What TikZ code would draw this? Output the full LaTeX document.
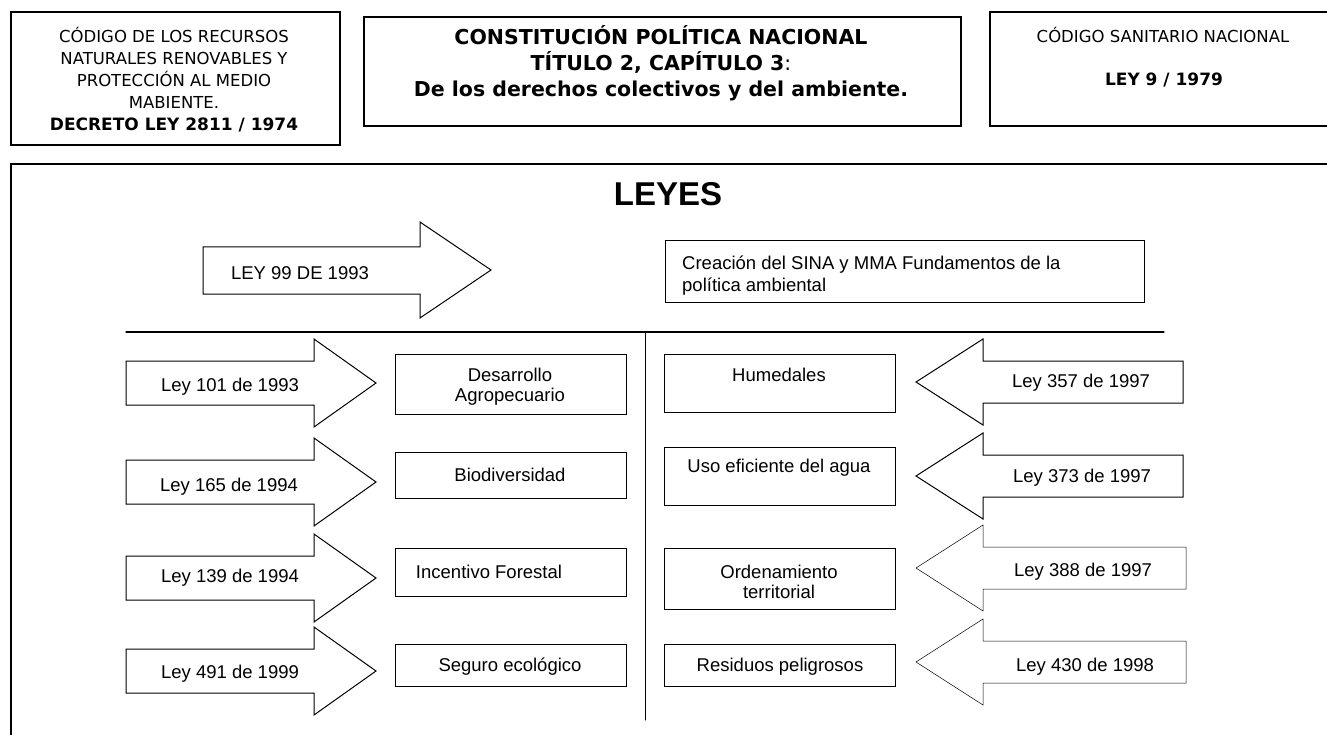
\documentclass[tikz,border=0pt]{standalone}
\usepackage{fontspec}
\setmainfont{Liberation Sans}
\newfontfamily\tahoma{DejaVu Sans}
\usepackage{tikz}

\begin{document}
\begin{tikzpicture}[line cap=round,line join=miter,x=1pt,y=-1pt,
  caja/.style={line width=1.2pt},
  flecha/.style={line width=1pt},
  fina/.style={line width=0.5pt},
  texto/.style={font=\fontsize{18.5}{20}\selectfont,inner sep=0pt,align=center},
  norma/.style={font=\tahoma\fontsize{16.5}{22}\selectfont,inner sep=0pt,align=center}]
\useasboundingbox (0,0) rectangle (1327,735);
\clip (0,0) rectangle (1327,735);
% normas generales
\draw [caja] (11,12) rectangle (340,145);
\draw [caja] (364,17) rectangle (961,126);
\draw [caja] (990,12) rectangle (1340,126);
\node[norma] (codigo) at (174,80) {CÓDIGO DE LOS RECURSOS\\NATURALES RENOVABLES Y\\PROTECCIÓN AL MEDIO\\MABIENTE.\\{\bfseries\fontsize{17}{22}\selectfont DECRETO LEY 2811 / 1974}};
\node[norma,font=\tahoma\bfseries\fontsize{20.5}{26}\selectfont] (constitucion) at (661,63) {CONSTITUCIÓN POLÍTICA NACIONAL\\TÍTULO 2, CAPÍTULO 3{\mdseries :}\\De los derechos colectivos y del ambiente.};
\node[norma] (sanitario) at (1163,35) {CÓDIGO SANITARIO NACIONAL};
\node[norma,font=\tahoma\bfseries\fontsize{17}{22}\selectfont] (ley9) at (1164,80) {LEY 9 / 1979};
% leyes
\draw [caja] (11,760) -- (11,164) -- (1350,164);
\node[inner sep=0pt,font=\bfseries\fontsize{33}{33}\selectfont] (leyes) at (668,194) {LEYES};
\draw [flecha] (203,247) -- (420,247) -- (420,222) -- (491,270) -- (420,318) -- (420,294) -- (203,294) -- cycle;
\node[texto] (ley99) at (300,273) {LEY 99 DE 1993};
\draw [flecha] (665,241) rectangle (1144,302);
\node[texto,align=left,anchor=west,font=\fontsize{18.5}{22}\selectfont] (sina) at (682,276) {Creación del SINA y MMA Fundamentos de la\\política ambiental};
\draw [caja] (126,332) -- (1164,332);
\draw [flecha] (645,332) -- (645,720);
% columna izquierda
\draw [flecha] (126,361) -- (314,361) -- (314,339) -- (376,383) -- (314,427) -- (314,405) -- (126,405) -- cycle;
\draw [flecha] (126,460) -- (314,460) -- (314,438) -- (376,482) -- (314,526) -- (314,504) -- (126,504) -- cycle;
\draw [flecha] (126,556) -- (314,556) -- (314,534) -- (376,578) -- (314,622) -- (314,600) -- (126,600) -- cycle;
\draw [flecha] (126,649) -- (314,649) -- (314,627) -- (376,671) -- (314,715) -- (314,693) -- (126,693) -- cycle;
\node[texto] (ley101) at (230,387) {Ley 101 de 1993};
\node[texto] (ley165) at (229,487) {Ley 165 de 1994};
\node[texto] (ley139) at (230,578) {Ley 139 de 1994};
\node[texto] (ley491) at (230,674) {Ley 491 de 1999};
\draw [flecha] (395,354) rectangle (626,414);
\draw [flecha] (395,452) rectangle (626,498);
\draw [flecha] (395,548) rectangle (626,596);
\draw [flecha] (395,644) rectangle (626,686);
\node[texto] (agro) at (510,387) {Desarrollo\\Agropecuario};
\node[texto] (biodiv) at (510,475) {Biodiversidad};
\node[texto] (forestal) at (489,572) {Incentivo Forestal};
\node[texto] (seguro) at (510,667) {Seguro ecológico};
% columna derecha
\draw [fina] (664,354) rectangle (895,412);
\draw [flecha] (664,447) rectangle (895,505);
\draw [flecha] (664,548) rectangle (895,609);
\draw [flecha] (664,644) rectangle (895,686);
\node[texto] (humedales) at (779,375) {Humedales};
\node[texto] (agua) at (779,468) {Uso eficiente del agua};
\node[texto] (ordenamiento) at (779,582) {Ordenamiento\\territorial};
\node[texto] (residuos) at (780,667) {Residuos peligrosos};
\draw [flecha] (1183,361) -- (983,361) -- (983,339) -- (916,382) -- (983,425) -- (983,403) -- (1183,403) -- cycle;
\draw [flecha] (1183,455) -- (983,455) -- (983,433) -- (916,476) -- (983,519) -- (983,497) -- (1183,497) -- cycle;
\draw [fina] (1186,547) -- (983,547) -- (983,525) -- (916,568) -- (983,611) -- (983,589) -- (1186,589) -- cycle;
\draw [fina] (1186,641) -- (983,641) -- (983,619) -- (916,662) -- (983,705) -- (983,683) -- (1186,683) -- cycle;
\node[texto] (ley357) at (1081,383) {Ley 357 de 1997};
\node[texto] (ley373) at (1082,478) {Ley 373 de 1997};
\node[texto] (ley388) at (1083,572) {Ley 388 de 1997};
\node[texto] (ley430) at (1085,667) {Ley 430 de 1998};
\end{tikzpicture}
\end{document}
